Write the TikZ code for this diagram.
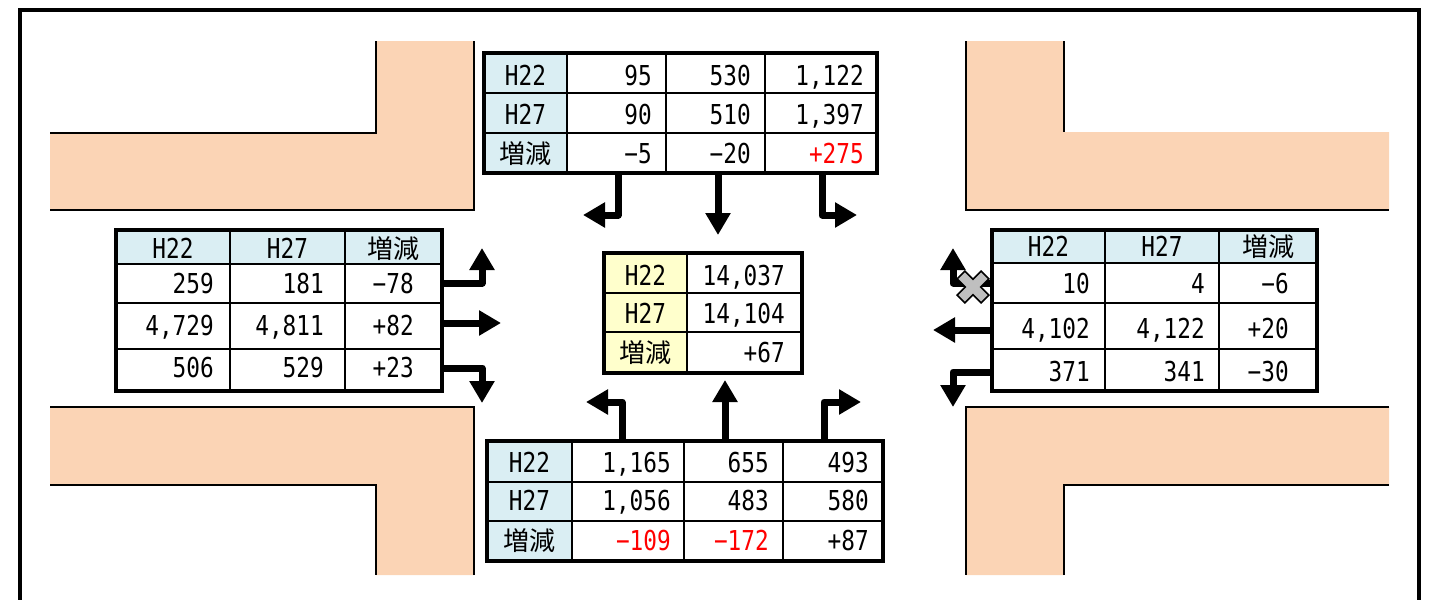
\documentclass[tikz,border=0pt]{standalone}
\usepackage{fontspec}
\setmainfont{DejaVu Sans Mono}[FakeStretch=0.83]
\newfontfamily\jpfont{Noto Sans CJK JP}
\usetikzlibrary{arrows.meta}
\definecolor{peach}{RGB}{251,212,181}
\definecolor{cellblue}{RGB}{218,238,243}
\definecolor{cellyellow}{RGB}{255,255,204}
\definecolor{crossgray}{RGB}{191,191,191}
\begin{document}
\begin{tikzpicture}[x=1pt,y=-1pt,font=\fontsize{27.4}{32}\selectfont]
    		\newcommand{\shaft}{7pt} % width of the flow arrows
    		\newcommand{\curbw}{2.2pt}
    		
    		% set the styles of roads, tables and arrows
    		\tikzset{
    			curb/.style={line width=\curbw},
    			tabgrid/.style={line width=2pt},
    			tabframe/.style={
    				draw,
    				line width=3.5pt,
    				inner sep=0pt,
    				outer sep=0pt,
    				anchor=north west
    				},
    			num/.style={anchor=base east, inner sep=0pt},
    			hdr/.style={anchor=base, inner sep=0pt},
    			kanji/.style={anchor=base, inner sep=0pt, font=\jpfont\fontsize{26}{30}\selectfont},
    			flow/.style={
    				line width=\shaft,
    				line join=round,
    				-{Triangle[width=24pt,length=22pt]}
    				}
    		}
    		\useasboundingbox (0,0) rectangle (1444,600);
    		
    		% outer frame
    		\draw[line width=4pt] (20,600) -- (20,10) -- (1419,10) -- (1419,600);
    		
    		% corners of the crossing
    		\fill[peach] (50,133) -- (376,133) -- (376,41) -- (474,41) -- (474,210) -- (50,210) -- cycle;
    		\draw[curb] (50,133) -- (376,133) -- (376,41);
    		\draw[curb] (50,210) -- (474,210) -- (474,41);
    		\fill[peach] (966,41) -- (1064,41) -- (1064,132) -- (1389,132) -- (1389,210) -- (966,210) -- cycle;
    		\draw[curb] (1064,41) -- (1064,132);
    		\draw[curb] (966,41) -- (966,210) -- (1389,210);
    		\fill[peach] (50,407) -- (474,407) -- (474,575) -- (376,575) -- (376,485) -- (50,485) -- cycle;
    		\draw[curb] (50,407) -- (474,407) -- (474,575);
    		\draw[curb] (50,485) -- (376,485) -- (376,575);
    		\fill[peach] (966,407) -- (1389,407) -- (1389,485) -- (1064,485) -- (1064,575) -- (966,575) -- cycle;
    		\draw[curb] (1389,407) -- (966,407) -- (966,575);
    		\draw[curb] (1389,485) -- (1064,485) -- (1064,575);
    		
    		% table frames
    		\node[tabframe, minimum width=393pt, minimum height=120pt] (tabT) at (484,53) {};
    		\node[tabframe, minimum width=326pt, minimum height=161pt] (tabL) at (116,230) {};
    		\node[tabframe, minimum width=325pt, minimum height=161pt] (tabR) at (992,230) {};
    		\node[tabframe, minimum width=198pt, minimum height=120pt] (tabC) at (604,253) {};
    		\node[tabframe, minimum width=396pt, minimum height=120pt] (tabB) at (487,441) {};
    		
    		% arrow tips
    		\coordinate (tipT1) at (583,215);
    		\coordinate (tipT2) at (718,235);
    		\coordinate (tipT3) at (857,215);
    		\coordinate (tipL1) at (482,248);
    		\coordinate (tipL2) at (501,323);
    		\coordinate (tipL3) at (482,403);
    		\coordinate (tipR1) at (953,248);
    		\coordinate (tipR2) at (933,330);
    		\coordinate (tipR3) at (953,407);
    		\coordinate (tipB1) at (586,402);
    		\coordinate (tipB2) at (725,380);
    		\coordinate (tipB3) at (861,402);
    		
    		% flows out of the top table
    		\draw[flow] (tabT.south -| 618,0) |- (tipT1);
    		\draw[flow] (tabT.south -| tipT2) -- (tipT2);
    		\draw[flow] (tabT.south -| 822,0) |- (tipT3);
    		% flows out of the left table
    		\draw[flow] (tabL.east |- 0,283) -| (tipL1);
    		\draw[flow] (tabL.east |- tipL2) -- (tipL2);
    		\draw[flow] (tabL.east |- 0,368) -| (tipL3);
    		% flows out of the right table
    		\draw[flow] (tabR.west |- 0,283) -| (tipR1);
    		\draw[flow] (tabR.west |- tipR2) -- (tipR2);
    		\draw[flow] (tabR.west |- 0,372) -| (tipR3);
    		% flows out of the bottom table
    		\draw[flow] (tabB.north -| 622,0) |- (tipB1);
    		\draw[flow] (tabB.north -| tipB2) -- (tipB2);
    		\draw[flow] (tabB.north -| 824,0) |- (tipB3);
    		
    		% top table
    		\fill[cellblue] (484,53) rectangle (567,173);
    		\draw[tabgrid] (567,53) -- (567,173) (666,53) -- (666,173) (765,53) -- (765,173);
    		\draw[tabgrid] (484,93) -- (877,93) (484,133) -- (877,133);
    		\node[tabframe, minimum width=393pt, minimum height=120pt] at (tabT.north west) {};
    		\node[hdr] (tT-11) at (525.5,85) {H22};
    		\node[hdr] (tT-21) at (525.5,124) {H27};
    		\node[kanji] (tT-31) at (525.5,163) {増減};
    		\node[num] (tT-12) at (652,85) {95};
    		\node[num] (tT-22) at (652,124) {90};
    		\node[num] (tT-32) at (652,163) {−5};
    		\node[num] (tT-13) at (751,85) {530};
    		\node[num] (tT-23) at (751,124) {510};
    		\node[num] (tT-33) at (751,163) {−20};
    		\node[num] (tT-14) at (864,85) {1,122};
    		\node[num] (tT-24) at (864,124) {1,397};
    		\node[num, text=red] (tT-34) at (864,163) {+275};
    		
    		% left table
    		\fill[cellblue] (116,230) rectangle (442,264);
    		\draw[tabgrid] (230,230) -- (230,391) (345,230) -- (345,391);
    		\draw[tabgrid] (116,264) -- (442,264) (116,303) -- (442,303) (116,349) -- (442,349);
    		\node[tabframe, minimum width=326pt, minimum height=161pt] at (tabL.north west) {};
    		\node[hdr] (tL-01) at (173,258) {H22};
    		\node[hdr] (tL-02) at (287.5,258) {H27};
    		\node[kanji] (tL-03) at (393.5,258) {増減};
    		\node[num] (tL-11) at (214,293) {259};
    		\node[num] (tL-21) at (214,335) {4,729};
    		\node[num] (tL-31) at (214,377) {506};
    		\node[num] (tL-12) at (324,293) {181};
    		\node[num] (tL-22) at (324,335) {4,811};
    		\node[num] (tL-32) at (324,377) {529};
    		\node[num] (tL-13) at (414,293) {−78};
    		\node[num] (tL-23) at (414,335) {+82};
    		\node[num] (tL-33) at (414,377) {+23};
    		
    		% right table
    		\fill[cellblue] (992,230) rectangle (1317,263);
    		\draw[tabgrid] (1105,230) -- (1105,391) (1219,230) -- (1219,391);
    		\draw[tabgrid] (992,263) -- (1317,263) (992,303) -- (1317,303) (992,349) -- (1317,349);
    		\node[tabframe, minimum width=325pt, minimum height=161pt] at (tabR.north west) {};
    		\node[hdr] (tR-01) at (1048.5,256) {H22};
    		\node[hdr] (tR-02) at (1162,256) {H27};
    		\node[kanji] (tR-03) at (1268,256) {増減};
    		\node[num] (tR-11) at (1090,293) {10};
    		\node[num] (tR-21) at (1090,338) {4,102};
    		\node[num] (tR-31) at (1090,381) {371};
    		\node[num] (tR-12) at (1205,293) {4};
    		\node[num] (tR-22) at (1205,338) {4,122};
    		\node[num] (tR-32) at (1205,381) {341};
    		\node[num] (tR-13) at (1289,293) {−6};
    		\node[num] (tR-23) at (1289,338) {+20};
    		\node[num] (tR-33) at (1289,381) {−30};
    		
    		% centre table
    		\fill[cellyellow] (604,253) rectangle (687,373);
    		\draw[tabgrid] (687,253) -- (687,373);
    		\draw[tabgrid] (604,293) -- (802,293) (604,332) -- (802,332);
    		\node[tabframe, minimum width=198pt, minimum height=120pt] at (tabC.north west) {};
    		\node[hdr] (tC-11) at (645.5,285) {H22};
    		\node[hdr] (tC-21) at (645.5,323) {H27};
    		\node[kanji] (tC-31) at (645.5,362) {増減};
    		\node[num] (tC-12) at (785,285) {14,037};
    		\node[num] (tC-22) at (785,323) {14,104};
    		\node[num] (tC-32) at (785,362) {+67};
    		
    		% bottom table
    		\fill[cellblue] (487,441) rectangle (572,561);
    		\draw[tabgrid] (572,441) -- (572,561) (684,441) -- (684,561) (783,441) -- (783,561);
    		\draw[tabgrid] (487,482) -- (883,482) (487,521) -- (883,521);
    		\node[tabframe, minimum width=396pt, minimum height=120pt] at (tabB.north west) {};
    		\node[hdr] (tB-11) at (529.5,472) {H22};
    		\node[hdr] (tB-21) at (529.5,510) {H27};
    		\node[kanji] (tB-31) at (529.5,550) {増減};
    		\node[num] (tB-12) at (671,472) {1,165};
    		\node[num] (tB-22) at (671,510) {1,056};
    		\node[num, text=red] (tB-32) at (671,550) {−109};
    		\node[num] (tB-13) at (769,472) {655};
    		\node[num] (tB-23) at (769,510) {483};
    		\node[num, text=red] (tB-33) at (769,550) {−172};
    		\node[num] (tB-14) at (869,472) {493};
    		\node[num] (tB-24) at (869,510) {580};
    		\node[num] (tB-34) at (869,550) {+87};
    		
    		% closed turn
    		\begin{scope}[shift={(973,287)}, rotate=45]
    			\filldraw[fill=crossgray, line width=1.5pt, line join=miter]
    				(5.5,5.5) -- (5.5,17) -- (-5.5,17) -- (-5.5,5.5) -- (-17,5.5) -- (-17,-5.5)
    				-- (-5.5,-5.5) -- (-5.5,-17) -- (5.5,-17) -- (5.5,-5.5) -- (17,-5.5) -- (17,5.5) -- cycle;
    		\end{scope}
		\end{tikzpicture}
\end{document}
